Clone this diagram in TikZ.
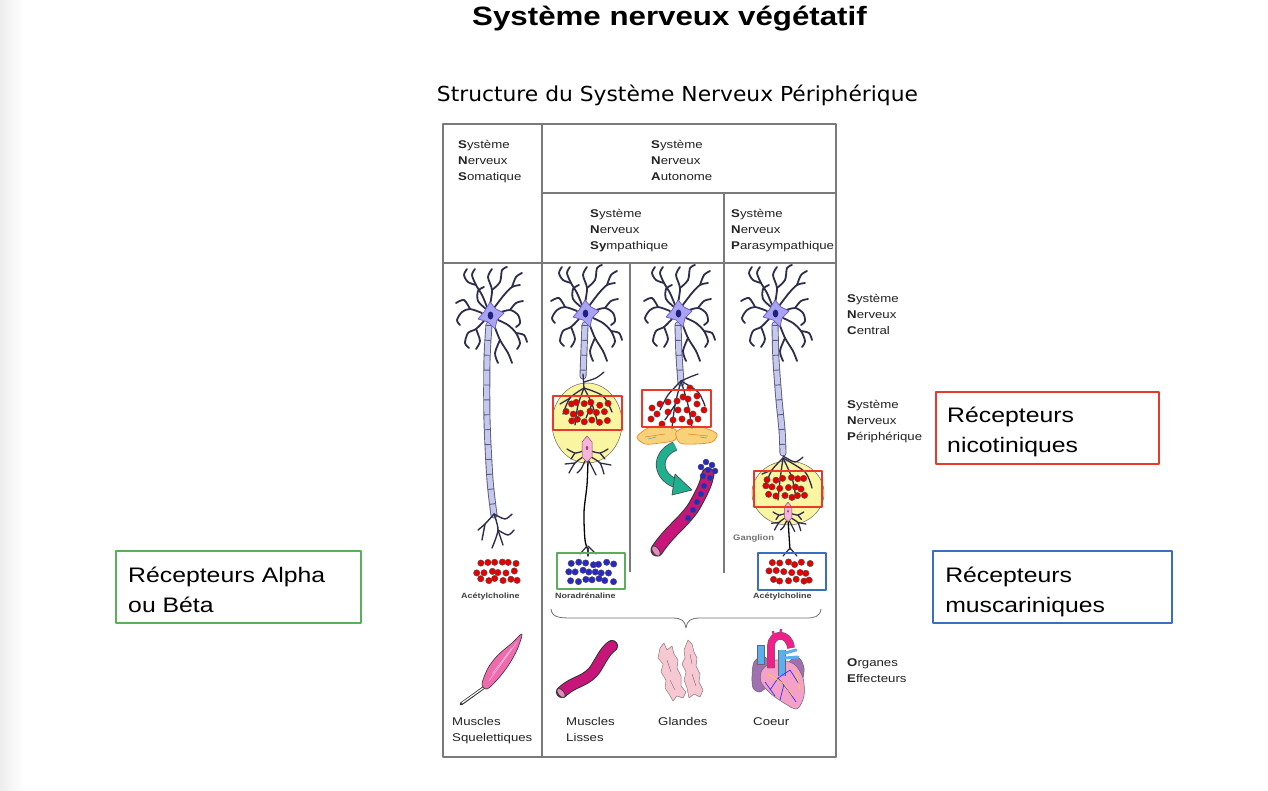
\documentclass[tikz,border=0pt]{standalone}
\usepackage{fontspec}
\setmainfont{Liberation Sans}
\newfontfamily\subfont{DejaVu Sans}
\usetikzlibrary{arrows.meta}

\definecolor{recred}{HTML}{E8392B}
\definecolor{recblue}{HTML}{3A6FC0}
\definecolor{recgreen}{HTML}{5BAF5B}
\definecolor{tline}{HTML}{7A7A7A}
\definecolor{dend}{HTML}{2E2E4A}
\definecolor{soma}{HTML}{A8A4F0}
\definecolor{somaedge}{HTML}{6A5ACD}
\definecolor{myelin}{HTML}{C6C9EE}
\definecolor{myedge}{HTML}{5A5A80}
\definecolor{achred}{HTML}{E60000}
\definecolor{nablue}{HTML}{2828C8}
\definecolor{ganyel}{HTML}{FAF5A0}
\definecolor{pinksoma}{HTML}{F4B6DA}
\definecolor{vessel}{HTML}{C8157A}
\definecolor{musclepink}{HTML}{F06AAE}
\definecolor{gland}{HTML}{F6C8D2}
\definecolor{adrenal}{HTML}{F8D27A}
\definecolor{arrowgreen}{HTML}{20B090}
\definecolor{txtgray}{HTML}{222222}
\definecolor{heartpink}{HTML}{F4A0C8}
\definecolor{heartblue}{HTML}{5AAFF0}
\definecolor{heartpurple}{HTML}{A070B0}
\definecolor{aorta}{HTML}{F0208A}

\newcommand\myelinpath[1]{%
  \draw[myedge, line width=7pt, line cap=round] #1;
  \draw[myelin, line width=5.2pt, line cap=round] #1;
  \draw[myedge, line width=6pt, dash pattern=on 0.9pt off 14pt] #1;}

% jittered hex cluster: x0 y0 cols rows dx dy colour seed
\newcommand\cluster[8]{%
  \pgfmathsetseed{#8}%
  \foreach \r in {1,...,#4}{%
    \foreach \c in {1,...,#3}{%
      \pgfmathsetmacro\px{#1+(\c-1)*#5+mod(\r,2)*#5/2+rand*1.8}%
      \pgfmathsetmacro\py{#2+(\r-1)*#6+rand*1.8}%
      \fill[#7, draw=black!70, line width=0.4pt] (\px,\py) circle (3.2);
    }}}

\tikzset{
  tx/.style={xscale=1.18, inner sep=0pt, text=txtgray},
  smalltx/.style={tx, font=\fontsize{11.2}{14}\selectfont, anchor=base west},
  tinytx/.style={tx, font=\fontsize{7.6}{9}\selectfont\bfseries, anchor=base west, text=black!75},
  bigtx/.style={tx, font=\fontsize{21}{26}\selectfont, anchor=base west, text=black},
  recbox/.style={line width=2.2pt},
  tbl/.style={tline, line width=1.1pt},
  dendr/.style={dend, line width=1.8pt, line cap=round, line join=round},
  neurontop/.pic={
    \begin{scope}[dendr]
      \draw plot[smooth] coordinates {(-3,-8) (-8,-20) (-14,-30) (-18,-40) (-15,-46)};
      \draw plot[smooth] coordinates {(-14,-30) (-22,-33) (-26,-40) (-23,-46)};
      \draw plot[smooth] coordinates {(0,-10) (2,-25) (-2,-38) (2,-46)};
      \draw plot[smooth] coordinates {(2,-25) (10,-33) (12,-45) (17,-48)};
      \draw plot[smooth] coordinates {(4,-7) (14,-20) (22,-28) (30,-30)};
      \draw plot[smooth] coordinates {(22,-28) (26,-38) (32,-42)};
      \draw plot[smooth] coordinates {(8,-2) (20,-5) (28,0) (30,8) (26,12)};
      \draw plot[smooth] coordinates {(20,-5) (26,-12) (33,-14)};
      \draw plot[smooth] coordinates {(8,5) (18,10) (26,18) (30,28) (27,34)};
      \draw plot[smooth] coordinates {(26,18) (34,20) (37,27)};
      \draw plot[smooth] coordinates {(-8,-2) (-20,-6) (-28,-3) (-33,5) (-30,10)};
      \draw plot[smooth] coordinates {(-20,-6) (-26,-15) (-34,-12)};
      \draw plot[smooth] coordinates {(-6,6) (-14,14) (-22,18) (-25,28) (-21,33)};
      \draw plot[smooth] coordinates {(-14,14) (-10,26) (-14,34)};
      \draw plot[smooth] coordinates {(4,10) (10,25) (18,38) (22,48)};
      \draw plot[smooth] coordinates {(10,25) (5,38) (8,48)};
      \draw plot[smooth] coordinates {(-4,-6) (-12,-14) (-12,-24) (-6,-28)};
    \end{scope}
    \fill[soma, draw=somaedge, line width=0.7pt] (0,-13) -- (6,-6) -- (14,-2) -- (7,5) -- (5,14) -- (-2,7) -- (-12,4) -- (-6,-3) -- cycle;
    \fill[dend!70!blue] (0.5,0.5) ellipse (2.8 and 4);
  },
  gsoma/.pic={
    \begin{scope}[dendr, line width=1.3pt]
      \draw plot[smooth] coordinates {(-4,2) (-12,4) (-20,0)};
      \draw plot[smooth] coordinates {(-4,8) (-12,14) (-18,24)};
      \draw plot[smooth] coordinates {(-12,14) (-22,15)};
      \draw plot[smooth] coordinates {(-12,4) (-16,10)};
      \draw plot[smooth] coordinates {(4,2) (13,4) (21,0)};
      \draw plot[smooth] coordinates {(4,8) (13,14) (17,25)};
      \draw plot[smooth] coordinates {(13,14) (24,16)};
      \draw plot[smooth] coordinates {(13,4) (18,10)};
      \draw plot[smooth] coordinates {(-2,12) (-6,20) (-10,24)};
      \draw plot[smooth] coordinates {(2,12) (6,20) (9,26)};
    \end{scope}
    \fill[pinksoma, draw=magenta!50!black, line width=0.5pt] (0,-13) -- (5,-7) -- (5,8) -- (0,13) -- (-5,8) -- (-5,-7) -- cycle;
    \fill[magenta!70!black] (0,-1) ellipse (1.3 and 2);
  }
}

\begin{document}
\begin{tikzpicture}[x=1pt,y=-1pt, line join=round]
\path[use as bounding box] (0,0) rectangle (1268,790);
\fill[white] (0,0) rectangle (1268,790);
\shade[left color=black!7, right color=white] (0,0) rectangle (24,790);

% titles
\node[tx, text=black, font=\fontsize{26.5}{30}\selectfont\bfseries, anchor=base] (title) at (669.5,25) {Système nerveux végétatif};
\node[inner sep=0pt, anchor=base] (subtitle) at (677.5,101.7) {\resizebox{481pt}{16.5pt}{\subfont Structure du Système Nerveux Périphérique}};

% table
\draw[tbl] (443,124) rectangle (836,757);
\draw[tbl] (542,124) -- (542,757);
\draw[tbl] (542,193) -- (836,193);
\draw[tbl] (443,263) -- (836,263);
\draw[tbl] (724,193) -- (724,573);
\draw[tbl] (630,263) -- (630,572);

% header texts
\node[smalltx] (som1) at (458,148) {\textbf{S}ystème};
\node[smalltx] (som2) at (458,164) {\textbf{N}erveux};
\node[smalltx] (som3) at (458,180) {\textbf{S}omatique};
\node[smalltx] (aut1) at (651,148) {\textbf{S}ystème};
\node[smalltx] (aut2) at (651,164) {\textbf{N}erveux};
\node[smalltx] (aut3) at (651,180) {\textbf{A}utonome};
\node[smalltx] (sym1) at (590,217) {\textbf{S}ystème};
\node[smalltx] (sym2) at (590,233) {\textbf{N}erveux};
\node[smalltx] (sym3) at (590,249) {\textbf{Sy}mpathique};
\node[smalltx] (par1) at (731,217) {\textbf{S}ystème};
\node[smalltx] (par2) at (731,233) {\textbf{N}erveux};
\node[smalltx] (par3) at (731,249) {\textbf{P}arasympathique};

% right labels
\node[smalltx] (snc1) at (847,302.5) {\textbf{S}ystème};
\node[smalltx] (snc2) at (847,318.5) {\textbf{N}erveux};
\node[smalltx] (snc3) at (847,334.5) {\textbf{C}entral};
\node[smalltx] (snp1) at (847,408.5) {\textbf{S}ystème};
\node[smalltx] (snp2) at (847,424.5) {\textbf{N}erveux};
\node[smalltx] (snp3) at (847,440.5) {\textbf{P}ériphérique};
\node[smalltx] (org1) at (847,666.5) {\textbf{O}rganes};
\node[smalltx] (org2) at (847,682.5) {\textbf{E}ffecteurs};

% bottom labels
\node[smalltx] (ms1) at (452,725.5) {Muscles};
\node[smalltx] (ms2) at (452,741.5) {Squelettiques};
\node[smalltx] (ml1) at (566,725.5) {Muscles};
\node[smalltx] (ml2) at (566,741.5) {Lisses};
\node[smalltx] (gl) at (658,725.5) {Glandes};
\node[smalltx] (co) at (753,725.5) {Coeur};

% ganglia
\fill[ganyel, draw=black!60, line width=0.5pt] (587,423) ellipse (35 and 40);
\fill[ganyel, draw=black!60, line width=0.5pt] (788,493) ellipse (36 and 32);

% ---- somatic neuron
\myelinpath{plot[smooth] coordinates {(489,325) (487,360) (487,420) (490,480) (494,515)}}
\begin{scope}[dendr, line width=1.4pt]
  \draw plot[smooth] coordinates {(494,514) (485,524) (478,530)};
  \draw plot[smooth] coordinates {(485,524) (482,540)};
  \draw plot[smooth] coordinates {(494,514) (498,530) (492,548)};
  \draw plot[smooth] coordinates {(498,530) (508,535) (514,530)};
  \draw plot[smooth] coordinates {(494,514) (505,519) (512,514)};
  \draw plot[smooth] coordinates {(498,530) (503,545)};
\end{scope}
\pic at (490,315) {neurontop};
\cluster{476}{563}{6}{3}{7.4}{8.5}{achred}{11}

% ---- sympathetic, ganglion
\myelinpath{plot[smooth] coordinates {(585,325) (584,350) (583,376)}}
\begin{scope}[dendr, line width=1.3pt]
  \draw plot[smooth] coordinates {(583,374) (584,388)};
  \draw plot[smooth] coordinates {(584,382) (596,378) (604,372)};
  \draw plot[smooth] coordinates {(584,388) (570,398) (563,414)};
  \draw plot[smooth] coordinates {(584,388) (578,405) (575,425)};
  \draw plot[smooth] coordinates {(584,388) (592,404) (598,424)};
  \draw plot[smooth] coordinates {(584,388) (603,396) (612,412)};
  \draw plot[smooth] coordinates {(570,398) (560,404)};
  \draw plot[smooth] coordinates {(592,404) (586,418)};
\end{scope}
\pic at (585,313) {neurontop};
\draw[black, line width=1.3pt] plot[smooth] coordinates {(588,460) (587,485) (584,512) (585,540) (588,550)};
\begin{scope}[dendr, line width=1.2pt]
  \draw (587,546) -- (580,554);
  \draw (588,546) -- (596,554);
  \draw (588,548) -- (588,556);
\end{scope}
\pic at (587,449) {gsoma};
\cluster{567}{404}{6}{3}{7.2}{8.5}{achred}{5}
\draw[recred, recbox] (553,396) rectangle (622,430);
\cluster{568}{563}{7}{3}{6.9}{8.5}{nablue}{7}
\draw[recgreen, recbox] (557,553) rectangle (625,589);
\node[tinytx] (nora) at (555,598.5) {Noradrénaline};

% ---- sympathetic, adrenal
\myelinpath{plot[smooth] coordinates {(678,325) (679,355) (681,383)}}
\fill[adrenal, draw=orange!70!brown, line width=0.6pt] plot[smooth cycle] coordinates {(637,437) (648,428) (662,426) (676,430) (675,440) (660,443) (645,444)};
\fill[adrenal, draw=orange!70!brown, line width=0.6pt] plot[smooth cycle] coordinates {(676,432) (690,426) (705,428) (717,434) (712,442) (695,444) (680,443)};
\draw[orange!60!brown, line width=0.5pt] (645,437) -- (665,434) (688,434) -- (708,436);
\draw[cyan!60!gray, line width=0.6pt] (648,439) -- (656,437) (700,437) -- (707,438);
\begin{scope}[dendr, line width=1.3pt]
  \draw plot[smooth] coordinates {(681,381) (668,395) (660,410)};
  \draw plot[smooth] coordinates {(681,381) (675,405) (672,428)};
  \draw plot[smooth] coordinates {(681,381) (688,405) (692,428)};
  \draw plot[smooth] coordinates {(681,381) (698,392) (705,406)};
  \draw plot[smooth] coordinates {(681,381) (690,377) (698,374)};
  \draw plot[smooth] coordinates {(675,405) (665,420)};
\end{scope}
\pic at (678,313) {neurontop};
\foreach \p in {(690,388),(697,396),(652,408),(651,419),(660,404),(668,402),(677,401),(683,397),(688,399),(697,404),(678,410),(687,410),(693,414),(668,412),(673,420),(682,419),(690,422),(662,424),(698,419),(657,414),(704,410)}
  \fill[achred, draw=black!70, line width=0.4pt] \p circle (3.2);
\draw[recred, recbox] (642,390) rectangle (711,427);
% green arrow
\draw[black!70, line width=9.6pt] (675,446) .. controls (654,455) and (657,478) .. (678,484);
\draw[arrowgreen, line width=8pt] (675,446) .. controls (654,455) and (657,478) .. (678,484);
\fill[arrowgreen, draw=black!70, line width=0.7pt] (675,474) -- (692,490) -- (672,495) -- cycle;
% vessel
\draw[black!80, line width=13pt, line cap=round] (657,550) .. controls (670,530) and (687,520) .. (696,503) .. controls (703,490) and (706,484) .. (708,474);
\draw[vessel, line width=11pt, line cap=round] (657,550) .. controls (670,530) and (687,520) .. (696,503) .. controls (703,490) and (706,484) .. (708,474);
\fill[vessel!50!white, draw=black!80, line width=0.7pt, rotate around={-55:(656,551)}] (656,551) ellipse (6 and 3.2);
\foreach \p in {(706,462),(712,465),(701,467),(708,470),(715,471),(703,476),(710,478),(704,486),(701,494),(697,502),(693,510),(688,518)}
  \fill[nablue, draw=black!70, line width=0.4pt] \p circle (3);

% ---- parasympathetic
\myelinpath{plot[smooth] coordinates {(775,325) (776,360) (779,400) (782,430) (783,453)}}
\begin{scope}[dendr, line width=1.3pt]
  \draw plot[smooth] coordinates {(783,456) (795,462) (803,457)};
  \draw plot[smooth] coordinates {(783,458) (772,470) (765,486)};
  \draw plot[smooth] coordinates {(783,458) (780,480) (778,500)};
  \draw plot[smooth] coordinates {(783,458) (792,478) (796,498)};
  \draw plot[smooth] coordinates {(783,458) (805,472) (812,488)};
  \draw plot[smooth] coordinates {(772,470) (762,474)};
\end{scope}
\pic at (775,313) {neurontop};
\draw[black, line width=1.3pt] plot[smooth] coordinates {(788,518) (789,535) (790,550)};
\begin{scope}[dendr, line width=1.2pt]
  \draw (790,548) -- (783,556);
  \draw (790,548) -- (797,556);
\end{scope}
\pic[scale=0.75] at (788,512) {gsoma};
\cluster{765}{479}{6}{3}{7.3}{8.5}{achred}{3}
\draw[recred, recbox] (754,471) rectangle (822,507);
\cluster{770}{563}{6}{3}{7.3}{8.5}{achred}{9}
\draw[recblue, recbox] (758,553) rectangle (826,590);
\node[tinytx] (ach2) at (753,598.5) {Acétylcholine};
\node[tinytx, font=\fontsize{8}{9}\selectfont\bfseries, text=black!55] (gang) at (733,540.5) {Ganglion};
\node[tinytx] (ach1) at (461,598.5) {Acétylcholine};

% brace
\draw[black!55, line width=0.8pt] (551,609) .. controls (552,617) and (558,618) .. (572,618) -- (672,618) .. controls (682,618) and (685,621) .. (686,628)
  .. controls (687,621) and (690,618) .. (700,618) -- (806,618) .. controls (814,618) and (820,617) .. (821,609);

% ---- effector organs
% skeletal muscle
\draw[black!80, line width=3pt, line cap=round] (486,686) -- (461,704);
\draw[white, line width=1.2pt, line cap=round] (486,686) -- (462,703);
\fill[musclepink, draw=black!80, line width=0.6pt] plot[smooth cycle] coordinates {(522,634) (512,643) (498,655) (488,668) (482,684) (487,689) (497,680) (508,666) (517,650)};
\draw[white!60!musclepink, line width=0.5pt] (517,642) -- (489,681) (512,648) -- (492,674);
% smooth muscle
\draw[black!80, line width=12pt, line cap=round] (562,692) .. controls (575,680) and (587,682) .. (596,668) .. controls (602,658) and (606,650) .. (612,646);
\draw[vessel, line width=10pt, line cap=round] (562,692) .. controls (575,680) and (587,682) .. (596,668) .. controls (602,658) and (606,650) .. (612,646);
\fill[vessel!50!white, draw=black!80, line width=0.7pt, rotate around={-50:(561,693)}] (561,693) ellipse (5.5 and 3);
% glands
\fill[gland, draw=gland!60!black, line width=0.5pt] (660,648) -- (664,643) -- (667,650) -- (672,646) -- (674,654) -- (678,660) -- (677,668) -- (681,676) -- (681,686) -- (686,692) -- (683,698) -- (677,696) -- (673,701) -- (669,694) -- (665,688) -- (666,680) -- (661,672) -- (663,664) -- (658,658) -- cycle;
\fill[gland, draw=gland!60!black, line width=0.5pt] (684,650) -- (688,640) -- (692,644) -- (694,652) -- (697,658) -- (696,666) -- (700,674) -- (699,682) -- (703,690) -- (700,697) -- (694,694) -- (689,698) -- (687,688) -- (684,680) -- (686,672) -- (682,664) -- (685,658) -- cycle;
\draw[gland!50!black, line width=0.4pt] (667,660) -- (671,672) (670,680) -- (675,690) (690,654) -- (692,664) (692,674) -- (696,686);
% heart
\fill[heartpurple, draw=black!60, line width=0.5pt] plot[smooth cycle] coordinates {(752,676) (754,662) (763,656) (770,664) (768,684) (760,692) (753,688)};
\fill[heartpurple, draw=black!60, line width=0.5pt] plot[smooth cycle] coordinates {(789,662) (799,658) (804,668) (802,680) (794,678)};
\fill[heartblue, draw=black!60, line width=0.5pt] (757,645) rectangle (764,664);
\fill[heartpink, draw=black!60, line width=0.5pt] plot[smooth cycle] coordinates {(762,670) (776,660) (794,664) (803,678) (804,696) (797,709) (784,703) (770,693) (761,682)};
\draw[black!60, line width=7.8pt] (771,668) -- (771,646) .. controls (771,633) and (789,631) .. (791,648);
\draw[aorta, line width=6.6pt] (771,668) -- (771,646) .. controls (771,633) and (789,631) .. (791,648);
\draw[aorta, line width=2.2pt] (774,638) -- (773,631) (780,636) -- (781,629);
\draw[black!60, line width=7.6pt] (782,676) -- (782,650);
\draw[heartblue, line width=6.4pt] (782,676) -- (782,650);
\draw[heartblue, line width=3pt, line cap=round] (785,653) -- (796,650) (785,658) -- (798,657);
\draw[blue!80, line width=0.7pt] (770,690) -- (778,678) -- (790,670) (778,678) -- (788,690) -- (796,702) (790,670) -- (799,684) (765,682) -- (775,696) (784,684) -- (780,700);
\draw[yellow!80!orange, line width=0.6pt] (768,674) -- (784,684) -- (793,696) (796,672) -- (800,690);

% receptor labels
\draw[recred, recbox] (936,392) rectangle (1159,464);
\node[bigtx] (nic1) at (947,422) {Récepteurs};
\node[bigtx] (nic2) at (947,452) {nicotiniques};
\draw[recblue, recbox] (933,551) rectangle (1172,623);
\node[bigtx] (mus1) at (945,582) {Récepteurs};
\node[bigtx] (mus2) at (945,612) {muscariniques};
\draw[recgreen, recbox] (116,551) rectangle (361,623);
\node[bigtx] (ab1) at (128,582) {Récepteurs Alpha};
\node[bigtx] (ab2) at (128,612) {ou Béta};
\end{tikzpicture}
\end{document}
